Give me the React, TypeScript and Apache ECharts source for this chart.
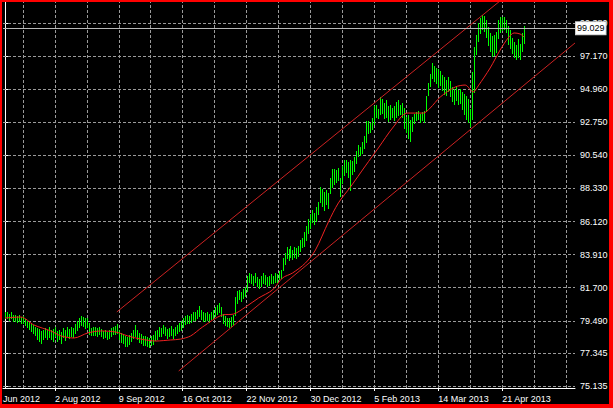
import React, { useEffect, useRef } from 'react';
import * as echarts from 'echarts';

// Daily USDJPY-style bars (index 0 = first visible bar)
const highs = [
  80.05, 80.10, 79.95, 80.05, 79.85, 79.90, 79.80, 79.85, 79.75, 79.80,
  79.60, 79.50, 79.40, 79.30, 79.20, 79.10, 79.00, 78.95, 78.80, 78.90,
  79.00, 78.85, 79.10, 78.90, 78.95, 79.05, 78.80, 78.90, 78.75, 79.00,
  78.85, 79.05, 78.95, 79.10, 79.00, 79.30, 79.50, 79.70, 79.80, 79.75,
  79.65, 79.70, 79.35, 79.00, 79.10, 79.05, 79.00, 79.10, 78.95, 78.80,
  78.85, 78.75, 78.90, 79.00, 79.05, 79.15, 79.25, 78.90, 78.70, 78.60,
  78.50, 78.40, 78.55, 78.70, 78.90, 79.20, 78.90, 78.70, 78.60, 78.50,
  78.45, 78.40, 78.35, 78.50, 78.55, 78.80, 78.90, 79.10, 79.00, 79.20,
  79.10, 78.95, 79.00, 79.15, 78.95, 79.05, 79.20, 79.35, 79.50, 79.70,
  79.80, 79.90, 79.80, 79.95, 80.10, 80.05, 80.20, 80.45, 80.20, 80.10,
  80.00, 80.05, 79.95, 80.05, 80.20, 80.40, 80.55, 80.65, 80.40, 79.95,
  79.80, 79.70, 79.65, 79.75, 79.90, 81.10, 81.45, 81.55, 81.40, 81.60,
  81.75, 82.50, 82.70, 82.60, 82.50, 82.65, 82.40, 82.30, 82.45, 82.70,
  82.55, 82.40, 82.50, 82.60, 82.45, 82.70, 82.60, 82.80, 82.90, 83.70,
  84.00, 84.40, 84.30, 84.50, 84.20, 84.45, 84.35, 84.50, 84.90, 85.00,
  85.40, 85.80, 86.30, 86.60, 86.90, 86.70, 87.10, 87.40, 88.40, 88.30,
  88.10, 88.20, 88.00, 89.00, 89.60, 89.65, 89.55, 89.70, 89.00, 89.80,
  90.20, 90.25, 90.10, 90.20, 90.15, 90.40, 90.80, 91.20, 91.10, 91.40,
  91.80, 92.80, 92.80, 92.70, 93.00, 93.80, 93.90, 93.60, 94.40, 94.30,
  94.00, 94.20, 93.80, 93.90, 93.70, 93.80, 94.10, 94.20, 93.90, 94.00,
  93.70, 93.10, 93.20, 92.90, 93.10, 93.30, 93.40, 93.50, 93.30, 93.40,
  93.50, 94.50, 95.40, 96.00, 96.70, 96.50, 96.40, 96.30, 96.20, 95.90,
  95.80, 95.60, 95.80, 95.50, 95.10, 95.00, 95.20, 94.90, 95.00, 94.80,
  94.60, 94.50, 94.30, 93.60, 96.10, 97.80, 98.60, 99.35, 99.70, 99.90,
  99.85, 99.60, 99.10, 98.70, 98.50, 98.60, 98.80, 99.60, 99.80, 99.75,
  99.80, 99.60, 99.20, 98.90, 98.40, 98.10, 97.90, 98.30, 98.00, 98.70, 99.20,
];
const lows = [
  79.55, 79.60, 79.45, 79.55, 79.40, 79.45, 79.35, 79.40, 79.30, 79.25,
  79.10, 79.00, 78.85, 78.75, 78.60, 78.50, 78.20, 78.10, 77.95, 78.20,
  78.30, 78.15, 78.35, 78.20, 78.10, 78.40, 78.05, 78.25, 77.95, 78.30,
  78.10, 78.40, 78.30, 78.45, 78.35, 78.60, 78.80, 79.00, 79.10, 79.05,
  78.90, 79.00, 78.55, 78.45, 78.50, 78.45, 78.40, 78.55, 78.40, 78.25,
  78.30, 78.20, 78.30, 78.40, 78.50, 78.55, 78.60, 78.20, 78.00, 77.90,
  77.75, 77.70, 77.90, 78.10, 78.30, 78.40, 78.20, 78.00, 77.95, 77.85,
  77.75, 77.70, 77.65, 77.80, 77.85, 78.10, 78.25, 78.45, 78.40, 78.60,
  78.50, 78.30, 78.40, 78.50, 78.30, 78.45, 78.60, 78.75, 78.85, 79.00,
  79.20, 79.30, 79.25, 79.35, 79.50, 79.45, 79.60, 79.70, 79.55, 79.45,
  79.40, 79.45, 79.35, 79.50, 79.60, 79.75, 79.90, 79.95, 79.70, 79.25,
  79.15, 79.10, 79.00, 79.05, 79.20, 79.80, 80.60, 80.85, 80.75, 80.90,
  81.05, 81.40, 82.00, 81.90, 81.80, 81.95, 81.75, 81.60, 81.70, 81.95,
  81.85, 81.70, 81.80, 81.95, 81.90, 82.05, 82.00, 82.20, 82.30, 82.80,
  83.20, 83.60, 83.50, 83.70, 83.50, 83.70, 83.60, 83.75, 84.10, 84.30,
  84.40, 84.80, 85.30, 85.60, 86.00, 85.90, 86.10, 86.50, 87.30, 87.10,
  86.80, 87.20, 86.90, 87.90, 88.30, 88.60, 88.70, 88.80, 87.70, 88.60,
  89.10, 89.40, 89.00, 88.10, 89.20, 89.40, 89.90, 90.40, 90.50, 90.60,
  90.90, 91.30, 91.90, 92.00, 92.20, 92.50, 93.00, 92.90, 93.20, 93.30,
  92.90, 93.00, 92.70, 92.90, 93.00, 92.80, 93.00, 93.10, 93.20, 93.00,
  92.30, 92.00, 91.60, 91.40, 92.10, 92.60, 92.80, 92.90, 92.70, 92.80,
  92.70, 93.40, 94.50, 95.10, 95.60, 95.40, 95.30, 95.00, 95.20, 94.80,
  94.60, 94.50, 94.80, 94.40, 94.10, 93.90, 94.20, 93.90, 94.00, 93.60,
  93.20, 92.90, 92.70, 92.40, 92.90, 94.70, 97.25, 98.10, 98.60, 98.90,
  98.80, 98.40, 97.80, 97.40, 97.10, 97.20, 97.40, 98.30, 98.70, 98.80,
  98.90, 98.70, 97.90, 97.60, 97.30, 97.00, 96.90, 97.00, 96.95, 97.40, 98.00,
];

// Moving average at bar positions
const maBars = [0, 8, 14.5, 23, 28, 34.5, 41.5, 48, 55.5, 61.5, 68, 75.5, 83, 88, 93, 99, 109, 114.5, 120.5, 127, 134, 139, 144, 150.5, 155.5, 162, 167, 173, 180.5, 187, 194.5, 201.5, 209.5, 213, 218, 225.5, 230.5, 234.5, 237, 243, 248, 252, 255, 258, 260];
const maValues = [79.68, 79.74, 79.21, 78.81, 78.48, 78.34, 78.68, 78.81, 78.74, 78.48, 78.27, 78.14, 78.21, 78.27, 78.48, 79.08, 79.88, 79.94, 80.41, 81.01, 81.55, 82.35, 82.68, 83.35, 84.22, 86.09, 87.36, 88.42, 89.83, 91.03, 92.43, 93.36, 93.36, 93.70, 94.43, 95.10, 95.23, 94.77, 95.17, 96.37, 97.57, 98.37, 98.71, 98.64, 98.44];

// Channel lines (bar, price)
const upperChannelBars = [56, 285.5];
const upperChannelPrices = [80.08, 104.91];
const lowerChannelBars = [87, 285.5];
const lowerChannelPrices = [76.14, 98.04];

const priceLevels = [99.38, 97.17, 94.96, 92.75, 90.54, 88.33, 86.12, 83.91, 81.7, 79.49, 77.345, 75.135];
const gridBars = [9, 25, 41, 57, 73, 89, 105, 121, 137, 153, 169, 185, 201, 217, 233, 249, 265, 281];
const dateTickBars = [25, 57, 89, 121, 153, 185, 217, 249];
const dateLabels = ['2 Aug 2012', '9 Sep 2012', '16 Oct 2012', '22 Nov 2012', '30 Dec 2012', '5 Feb 2013', '14 Mar 2013', '21 Apr 2013'];
const firstLabelBar = -1;
const firstLabelText = 'Jun 2012';
const currentPrice = 99.029;

const FONT = 'Liberation Sans';
const BAR_COLOR = '#00ff00';
const GRID_COLOR = '#9a9a9a';

export default function App() {
  const ref = useRef<HTMLDivElement>(null);
  useEffect(() => {
    if (!ref.current) return;
    const chart = echarts.init(ref.current, undefined, { renderer: 'svg' });
    const barData = highs.map((h, i) => [i, h, lows[i]]);
    const option: any = {
      animation: false,
      backgroundColor: '#000000',
      textStyle: { fontFamily: FONT },
      grid: { left: 2, top: 2, right: 38, bottom: 20, containLabel: false },
      xAxis: {
        type: 'value',
        min: -1,
        max: 285.5,
        splitLine: { show: false },
        axisLine: { show: true, lineStyle: { color: '#ffffff', width: 1 } },
        axisTick: { show: true, length: 3, lineStyle: { color: '#ffffff' }, customValues: dateTickBars },
        axisLabel: {
          show: true,
          customValues: [firstLabelBar, ...dateTickBars],
          color: '#ffffff',
          fontSize: 9,
          fontFamily: FONT,
          align: 'left',
          margin: 6,
          formatter: (v: number) => {
            if (v === firstLabelBar) return firstLabelText;
            const k = dateTickBars.indexOf(v);
            return k >= 0 ? dateLabels[k] : '';
          },
        },
      },
      yAxis: {
        type: 'value',
        position: 'right',
        min: 75.003,
        max: 100.776,
        scale: true,
        splitLine: { show: false },
        axisLine: { show: true, lineStyle: { color: '#ffffff', width: 1 } },
        axisTick: { show: true, length: 3, lineStyle: { color: '#ffffff' }, customValues: priceLevels },
        axisLabel: {
          show: true,
          customValues: priceLevels,
          color: '#ffffff',
          fontSize: 9,
          fontFamily: FONT,
          margin: 5,
          padding: [0, 0, 1, 0],
          formatter: (v: number) => v.toFixed(3),
        },
      },
      series: [
        {
          type: 'line',
          name: 'grid',
          data: [],
          silent: true,
          markLine: {
            z: 1,
            silent: true,
            symbol: 'none',
            label: { show: false },
            emphasis: { disabled: true },
            lineStyle: { color: GRID_COLOR, type: [3, 2], width: 1 },
            data: [
              ...priceLevels.map((p) => ({ yAxis: p })),
              ...gridBars.map((b) => ({ xAxis: b })),
            ],
          },
        },
        {
          type: 'custom',
          name: 'bars',
          z: 3,
          silent: true,
          emphasis: { disabled: true },
          data: barData,
          encode: { x: 0, y: [1, 2] },
          renderItem: (_params: any, api: any) => {
            const i = api.value(0);
            const top = api.coord([i, api.value(1)]);
            const bot = api.coord([i, api.value(2)]);
            return {
              type: 'rect',
              shape: { x: Math.round(top[0]), y: Math.round(top[1]), width: 1, height: Math.max(1, Math.round(bot[1] - top[1])) },
              style: { fill: BAR_COLOR, stroke: null },
            };
          },
        },
        {
          type: 'line',
          name: 'ma',
          z: 4,
          silent: true,
          data: maBars.map((b, k) => [b, maValues[k]]),
          smooth: 0.3,
          showSymbol: false,
          lineStyle: { color: '#ee2222', width: 1 },
        },
        {
          type: 'line',
          name: 'upper',
          z: 4,
          silent: true,
          data: upperChannelBars.map((b, k) => [b, upperChannelPrices[k]]),
          showSymbol: false,
          clip: true,
          lineStyle: { color: '#cc2222', width: 1 },
        },
        {
          type: 'line',
          name: 'lower',
          z: 4,
          silent: true,
          data: lowerChannelBars.map((b, k) => [b, lowerChannelPrices[k]]),
          showSymbol: false,
          clip: true,
          lineStyle: { color: '#cc2222', width: 1 },
        },
        {
          type: 'line',
          name: 'price',
          data: [],
          silent: true,
          markLine: {
            z: 6,
            silent: true,
            symbol: 'none',
            emphasis: { disabled: true },
            lineStyle: { color: '#b8b8b8', type: 'solid', width: 1 },
            label: {
              show: true,
              position: 'end',
              distance: 1,
              formatter: () => currentPrice.toFixed(3),
              color: '#000000',
              backgroundColor: '#ffffff',
              borderColor: '#d0d0d0',
              borderWidth: 1,
              padding: [2, 1, 1, 1],
              fontSize: 9,
              fontFamily: FONT,
            },
            data: [{ yAxis: currentPrice }],
          },
        },
      ],
      graphic: [
        { type: 'rect', z: 100, silent: true, shape: { x: 0, y: 0, width: 613, height: 2 }, style: { fill: '#ff0000' } },
        { type: 'rect', z: 100, silent: true, shape: { x: 0, y: 0, width: 2, height: 408 }, style: { fill: '#ff0000' } },
        { type: 'rect', z: 100, silent: true, shape: { x: 609, y: 0, width: 4, height: 408 }, style: { fill: '#ff0000' } },
        { type: 'rect', z: 100, silent: true, shape: { x: 0, y: 404, width: 613, height: 4 }, style: { fill: '#ff0000' } },
      ],
    };
    chart.setOption(option);
    return () => chart.dispose();
  }, []);
  return (
    <div style={{ position: 'fixed', left: 0, top: 0, width: 613, height: 408, background: '#000' }}>
      <div ref={ref} style={{ width: 613, height: 408 }} />
    </div>
  );
}
